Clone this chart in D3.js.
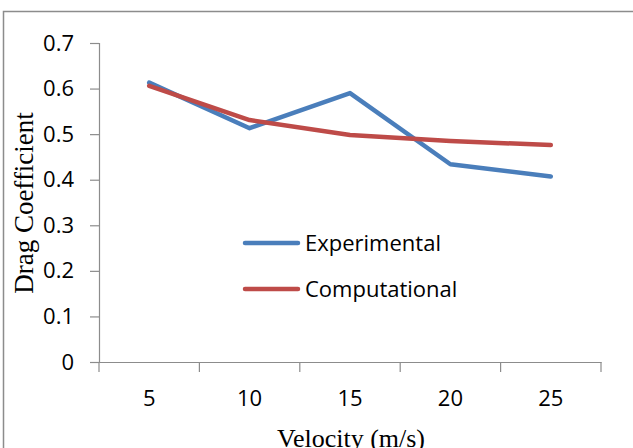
<!DOCTYPE html>
<html>
<head>
<meta charset="utf-8">
<script src="https://cdn.jsdelivr.net/npm/d3@7"></script>
<style>
  body { margin: 0; background: #fff; }
  svg { display: block; }
</style>
</head>
<body>
<div id="chart"></div>
<script>
const velocities = ['5', '10', '15', '20', '25'];
const experimental = [0.613, 0.513, 0.590, 0.434, 0.407];
const computational = [0.606, 0.531, 0.498, 0.485, 0.476];
const yTicks = [0, 0.1, 0.2, 0.3, 0.4, 0.5, 0.6, 0.7];
const seriesNames = ['Experimental', 'Computational'];

const width = 633;
const height = 448;
const margin = { left: 99, right: 32, top: 43, bottom: 86 };
const sansFont = '"Open Sans", Lato, sans-serif';
const serifFont = '"Liberation Serif", "DejaVu Serif", serif';
const colors = ['#4a7ebb', '#be4b48'];

const svg = d3.select('#chart').append('svg')
  .attr('width', width)
  .attr('height', height);

// chart border (only top and left edges visible in frame)
svg.append('rect')
  .attr('x', 3.5).attr('y', 11.5)
  .attr('width', width + 20).attr('height', height + 20)
  .attr('fill', 'none')
  .attr('stroke', '#8c8c8c')
  .attr('stroke-width', 1.5);

const x = d3.scaleBand()
  .domain(velocities)
  .range([margin.left, 601]);

const y = d3.scaleLinear()
  .domain([0, 0.7])
  .range([362, margin.top]);

// y axis
const yAxis = svg.append('g')
  .attr('transform', `translate(${margin.left},0)`)
  .call(d3.axisLeft(y).tickValues(yTicks).tickSize(9).tickPadding(16)
    .tickFormat((d) => (d === 0 ? '0' : d3.format('.1f')(d))));
yAxis.select('.domain').attr('stroke', '#8c8c8c').attr('stroke-width', 1.2);
yAxis.selectAll('.tick line').attr('stroke', '#8c8c8c').attr('stroke-width', 1.2);
yAxis.selectAll('.tick text')
  .attr('font-family', sansFont)
  .attr('font-size', 22)
  .attr('fill', '#000');

// x axis
const xAxis = svg.append('g')
  .attr('transform', `translate(0,${y(0)})`)
  .call(d3.axisBottom(x).tickSize(0).tickPadding(28));
xAxis.select('.domain').attr('stroke', '#8c8c8c').attr('stroke-width', 1.2);
xAxis.selectAll('.tick text')
  .attr('font-family', sansFont)
  .attr('font-size', 22)
  .attr('fill', '#000');

// x tick marks between categories
const boundaries = velocities.map((v) => x(v)).concat([x(velocities[velocities.length - 1]) + x.bandwidth()]);
xAxis.selectAll('.bound')
  .data(boundaries)
  .join('line')
  .attr('class', 'bound')
  .attr('x1', (d) => d).attr('x2', (d) => d)
  .attr('y1', 0).attr('y2', 10)
  .attr('stroke', '#8c8c8c')
  .attr('stroke-width', 1.2);

// axis titles
svg.append('text')
  .attr('x', 351).attr('y', 447)
  .attr('text-anchor', 'middle')
  .attr('font-family', serifFont)
  .attr('font-size', 26)
  .text('Velocity (m/s)');

svg.append('text')
  .attr('transform', 'translate(33,203) rotate(-90)')
  .attr('text-anchor', 'middle')
  .attr('font-family', serifFont)
  .attr('font-size', 27)
  .text('Drag Coefficient');

// lines
const line = d3.line()
  .x((d, i) => x(velocities[i]) + x.bandwidth() / 2)
  .y((d) => y(d));

[experimental, computational].forEach((values, i) => {
  svg.append('path')
    .datum(values)
    .attr('fill', 'none')
    .attr('stroke', colors[i])
    .attr('stroke-width', 4.5)
    .attr('stroke-linejoin', 'round')
    .attr('stroke-linecap', 'round')
    .attr('d', line);
});

// legend
const legend = svg.append('g').attr('transform', 'translate(245,243)');
seriesNames.forEach((name, i) => {
  const row = legend.append('g').attr('transform', `translate(0,${i * 46})`);
  row.append('line')
    .attr('x1', 0).attr('x2', 53)
    .attr('y1', 0).attr('y2', 0)
    .attr('stroke', colors[i])
    .attr('stroke-width', 4.5)
    .attr('stroke-linecap', 'round');
  row.append('text')
    .attr('x', 60).attr('y', 8)
    .attr('font-family', sansFont)
    .attr('font-size', 22)
    .text(name);
});
</script>
</body>
</html>
